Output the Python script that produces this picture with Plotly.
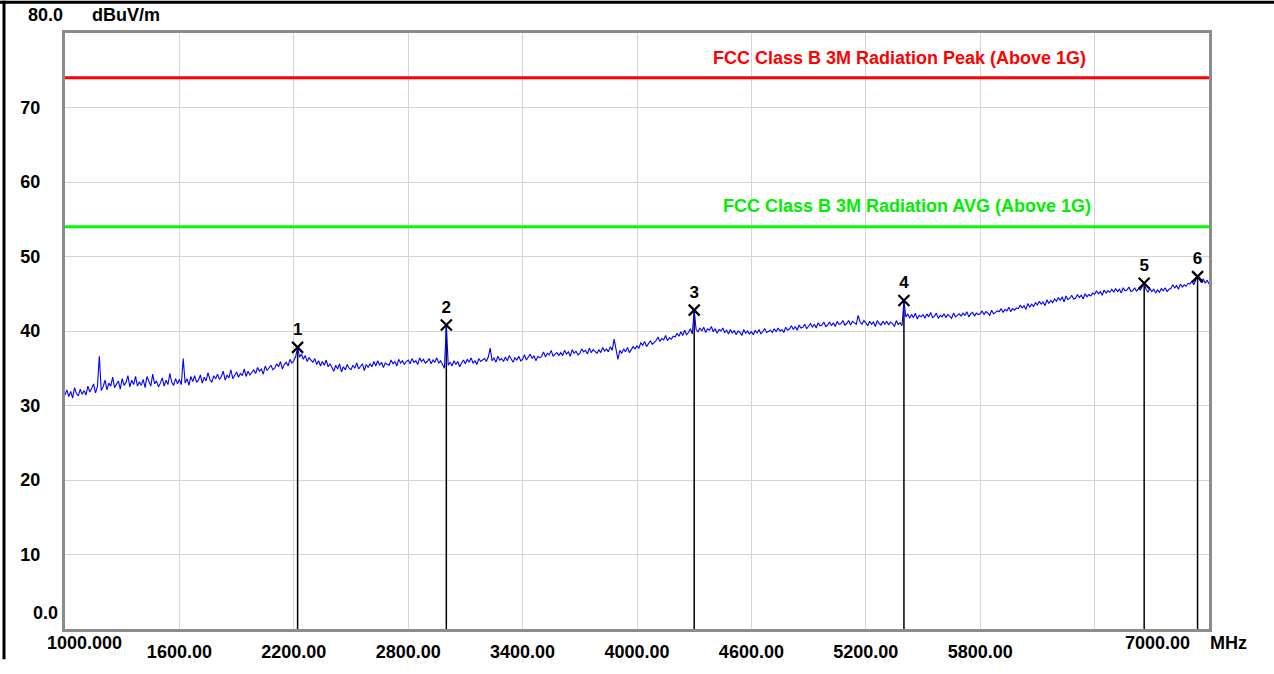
import numpy as np
import plotly.graph_objects as go

# ---- data ----
freq_start = 1000.0
freq_stop = 7000.0
level = [
    31.4, 32.1, 31.2, 31.9, 31.0, 32.4, 31.6, 31.3, 32.2, 31.5,
    32.0, 31.4, 32.6, 31.8, 32.3, 32.9, 31.7, 32.5, 36.6, 32.0,
    32.5, 33.4, 32.1, 33.0, 32.6, 33.8, 32.4, 32.9, 33.3, 32.2,
    33.6, 32.7, 33.1, 34.0, 32.5, 33.4, 32.8, 33.9, 32.6, 33.2,
    32.7, 33.5, 32.4, 33.9, 33.1, 32.6, 34.2, 32.9, 33.3, 32.5,
    33.0, 33.7, 32.6, 33.4, 32.8, 34.3, 33.1, 32.7, 33.6, 32.9,
    33.5, 32.8, 36.3, 33.0, 33.6, 32.7, 33.9, 33.2, 34.0, 33.1,
    33.4, 34.1, 33.0, 33.8, 33.3, 34.4, 33.5, 33.1, 34.0, 33.6,
    34.2, 33.5, 33.9, 34.6, 33.4, 34.1, 33.7, 34.8, 33.6, 34.0,
    34.5, 33.8, 34.3, 34.0, 34.9, 33.9, 34.6, 34.1, 34.4, 34.8,
    34.3, 35.1, 34.6, 34.9, 34.2, 35.3, 34.7, 35.0, 35.4, 34.8,
    35.0, 35.6, 35.2, 35.9, 34.9, 35.5, 35.8, 35.3, 36.2, 35.7,
    36.0, 36.6, 37.8, 36.5, 36.9, 36.2, 36.7, 35.9, 36.4, 36.1,
    35.8, 36.3, 35.5, 36.0, 35.3, 35.9, 35.4, 36.1, 35.2, 35.6,
    35.1, 34.6, 35.4, 34.9, 35.6, 34.5, 35.2, 34.8, 35.5, 35.0,
    34.8, 35.4, 35.0, 35.7, 34.9, 35.3, 35.6, 34.7, 35.5, 35.1,
    35.6, 35.2, 35.9, 35.3, 36.0, 35.4, 35.8, 35.1, 35.7, 35.5,
    35.4, 36.1, 35.6, 35.9, 35.3, 36.2, 35.7, 36.0, 35.5, 35.9,
    36.1, 35.6, 36.3, 35.8, 36.0, 35.5, 36.4, 35.9, 36.2, 35.7,
    35.9, 36.3, 35.6, 36.1, 35.8, 36.4, 35.7, 36.0, 35.5, 35.0,
    40.8, 35.4, 35.8, 35.3, 36.0, 35.5, 35.9, 35.2, 35.7, 36.1,
    35.6, 36.2, 35.8, 36.4, 35.7, 36.0, 35.5, 36.3, 35.9, 36.1,
    36.3, 35.9, 36.5, 37.7, 36.0, 36.4, 35.8, 36.6, 36.1, 36.3,
    35.9, 36.5, 36.0, 36.7, 36.2, 35.8, 36.4, 36.1, 36.6, 36.0,
    36.2, 36.8, 36.1, 36.5, 36.9, 36.3, 36.7, 36.0, 36.6, 36.4,
    36.6, 37.2, 36.5, 37.0, 36.8, 37.4, 36.6, 36.9, 37.1, 36.7,
    37.1, 36.7, 37.4, 36.9, 37.2, 36.6, 37.5, 37.0, 37.3, 36.8,
    37.0, 37.6, 37.2, 37.4, 36.9, 37.7, 37.1, 37.5, 37.3, 37.0,
    37.5, 37.1, 37.8, 37.3, 37.6, 37.2, 37.9, 37.4, 38.9, 37.5,
    36.2, 37.4, 37.0, 37.6, 37.2, 37.8, 37.1, 37.5, 37.9, 37.6,
    38.0, 37.7, 38.4, 38.1, 38.6, 37.9, 38.3, 38.7, 38.2, 38.5,
    38.7, 39.2, 38.6, 39.0, 38.8, 39.4, 38.7, 39.1, 38.9, 39.3,
    39.2, 39.7, 39.3, 39.9, 39.4, 40.1, 39.5, 39.8, 40.3, 39.6,
    42.8, 40.2, 39.9, 40.4, 40.0, 40.5, 39.8, 40.3, 40.1, 40.6,
    39.9, 40.3, 39.7, 40.2, 40.0, 40.4, 39.8, 40.1, 39.6, 40.2,
    39.7, 40.1, 39.5, 40.0, 39.8, 39.4, 40.2, 39.7, 40.0, 39.6,
    39.9, 39.5, 40.1, 39.7, 40.2, 39.6, 39.9, 40.3, 39.8, 40.0,
    40.1, 39.8, 40.3, 39.9, 40.4, 40.0, 40.2, 39.8, 40.5, 40.1,
    40.3, 40.7, 40.2, 40.6, 40.1, 40.8, 40.4, 40.5, 40.9, 40.3,
    40.6, 41.0, 40.5, 40.9, 40.4, 41.1, 40.7, 40.8, 41.2, 40.6,
    40.8, 41.2, 40.7, 41.1, 40.6, 41.3, 40.9, 41.0, 41.4, 40.8,
    41.0, 41.4, 40.8, 41.3, 41.1, 40.9, 42.1, 41.2, 40.9, 41.4,
    41.1, 40.7, 41.3, 40.9, 41.2, 40.6, 41.4, 41.0, 40.8, 41.3,
    40.9, 41.3, 40.8, 41.2, 41.0, 40.6, 41.4, 40.9, 41.1, 40.7,
    44.1, 41.9, 42.3, 41.7, 42.2, 41.8, 42.4, 41.6, 42.1, 41.9,
    42.2, 41.7, 42.3, 41.9, 42.5, 41.8, 42.0, 42.4, 41.7, 42.1,
    41.9, 42.3, 41.8, 42.2, 42.0, 41.7, 42.4, 41.9, 42.1, 42.3,
    42.0, 42.4, 42.1, 42.6, 41.9, 42.3, 42.5, 42.0, 42.4, 42.2,
    42.3, 42.7, 42.2, 42.6, 42.4, 42.1, 42.8, 42.3, 42.5, 42.7,
    42.6, 43.0, 42.5, 42.9, 42.7, 43.2, 42.6, 43.0, 42.8, 43.1,
    43.0, 43.5, 43.1, 43.4, 42.9, 43.7, 43.2, 43.6, 43.3, 43.8,
    43.5, 44.0, 43.6, 43.9, 43.4, 44.2, 43.7, 44.1, 43.8, 44.3,
    44.0, 44.5, 44.1, 44.6, 43.9, 44.7, 44.2, 44.4, 44.8, 44.3,
    44.4, 44.9, 44.5, 44.8, 44.3, 45.0, 44.6, 44.9, 44.7, 45.1,
    44.9, 45.4, 45.0, 45.3, 44.8, 45.5, 45.1, 45.4, 45.2, 45.6,
    45.2, 45.7, 45.3, 45.6, 45.1, 45.8, 45.4, 45.5, 45.9, 45.3,
    45.4, 45.8, 45.3, 45.7, 45.5, 45.9, 46.4, 45.6, 45.2, 45.7,
    45.3, 45.6, 45.1, 45.5, 45.2, 45.7, 45.4, 45.8, 45.3, 45.6,
    45.7, 46.2, 45.8, 46.1, 45.6, 46.3, 45.9, 46.2, 46.0, 46.4,
    46.3, 46.7, 46.2, 46.8, 47.3, 46.9, 46.5, 47.0, 46.4, 46.8,
    46.3,
]
freq = np.linspace(freq_start, freq_stop, len(level))

marker_ids = ["1", "2", "3", "4", "5", "6"]
marker_freq = [2220, 3000, 4300, 5400, 6660, 6940]
marker_level = [37.8, 40.8, 42.8, 44.1, 46.4, 47.3]

peak_limit = 74.0
avg_limit = 54.0
peak_label = "FCC Class B 3M Radiation Peak (Above 1G)"
avg_label = "FCC Class B 3M Radiation AVG (Above 1G)"

x_tickvals = [1000, 1600, 2200, 2800, 3400, 4000, 4600, 5200, 5800, 6400, 7000]
x_ticktext = ["", "1600.00", "2200.00", "2800.00", "3400.00", "4000.00",
              "4600.00", "5200.00", "5800.00", "", ""]
y_tickvals = [0, 10, 20, 30, 40, 50, 60, 70, 80]
y_ticktext = ["", "10", "20", "30", "40", "50", "60", "70", ""]

FONT = "Liberation Sans"
BOLD = dict(family=FONT, size=18, color="black", weight="bold")

W, H = 1274, 674
L, R, T, B = 65, 65, 33, 31
PW, PH = W - L - R, H - T - B


def px_x(px):
    return (px - L) / PW


def px_y(py):
    return (H - B - py) / PH


fig = go.Figure()

# limit lines
fig.add_trace(go.Scatter(x=[freq_start, freq_stop], y=[peak_limit, peak_limit],
                         mode="lines", line=dict(color="#ff0000", width=3),
                         hoverinfo="skip", showlegend=False))
fig.add_trace(go.Scatter(x=[freq_start, freq_stop], y=[avg_limit, avg_limit],
                         mode="lines", line=dict(color="#00ff00", width=3),
                         hoverinfo="skip", showlegend=False))

# marker drop lines
vx, vy = [], []
for f, v in zip(marker_freq, marker_level):
    vx += [f, f, None]
    vy += [0, v, None]
fig.add_trace(go.Scatter(x=vx, y=vy, mode="lines",
                         line=dict(color="black", width=1.5),
                         hoverinfo="skip", showlegend=False))

# measurement trace
fig.add_trace(go.Scatter(x=freq, y=level, mode="lines",
                         line=dict(color="#0000ff", width=1.1),
                         showlegend=False))

# markers
fig.add_trace(go.Scatter(x=marker_freq, y=marker_level, mode="markers+text",
                         marker=dict(symbol="x-thin-open", size=11, color="black",
                                     line=dict(color="black", width=2.2)),
                         text=marker_ids, textposition="top center",
                         textfont=dict(family=FONT, size=17, color="black", weight="bold"),
                         showlegend=False))

annotations = [
    dict(x=6365, y=76.6, xref="x", yref="y", text=peak_label, showarrow=False,
         xanchor="right", yanchor="middle",
         font=dict(family=FONT, size=18, color="#ff0000", weight="bold")),
    dict(x=6390, y=56.8, xref="x", yref="y", text=avg_label, showarrow=False,
         xanchor="right", yanchor="middle",
         font=dict(family=FONT, size=18, color="#00ee00", weight="bold")),
    dict(x=px_x(60), y=px_y(627), xref="paper", yref="paper",
         text="0.0", showarrow=False, xanchor="right", yanchor="middle", font=BOLD),
    dict(x=px_x(65), y=px_y(15), xref="paper", yref="paper",
         text="80.0", showarrow=False, xanchor="right", yanchor="middle", font=BOLD),
    dict(x=px_x(90), y=px_y(15), xref="paper", yref="paper",
         text="dBuV/m", showarrow=False, xanchor="left", yanchor="middle", font=BOLD),
    dict(x=px_x(45), y=px_y(657), xref="paper", yref="paper",
         text="1000.000", showarrow=False, xanchor="left", yanchor="middle", font=BOLD),
    dict(x=px_x(1157), y=px_y(657), xref="paper", yref="paper",
         text="7000.00", showarrow=False, xanchor="center", yanchor="middle", font=BOLD),
    dict(x=px_x(1208), y=px_y(657), xref="paper", yref="paper",
         text="MHz", showarrow=False, xanchor="left", yanchor="middle", font=BOLD),
]

shapes = [
    dict(type="line", xref="paper", yref="paper",
         x0=px_x(0), x1=px_x(W), y0=px_y(1.5), y1=px_y(1.5),
         line=dict(color="black", width=3)),
    dict(type="line", xref="paper", yref="paper",
         x0=px_x(4), x1=px_x(4), y0=px_y(0), y1=px_y(H),
         line=dict(color="black", width=3)),
]

fig.update_layout(
    width=W, height=H, autosize=False,
    margin=dict(l=L, r=R, t=T, b=B),
    paper_bgcolor="white", plot_bgcolor="white",
    annotations=annotations, shapes=shapes,
    showlegend=False,
)
fig.update_xaxes(range=[freq_start, freq_stop], tickvals=x_tickvals, ticktext=x_ticktext,
                 showgrid=True, gridcolor="#d4d4d4", gridwidth=1,
                 showline=True, linecolor="#8c8c8c", linewidth=3, mirror=True,
                 ticks="", tickfont=BOLD, ticklabelstandoff=4, zeroline=False)
fig.update_yaxes(range=[0, 80], tickvals=y_tickvals, ticktext=y_ticktext,
                 showgrid=True, gridcolor="#d4d4d4", gridwidth=1,
                 showline=True, linecolor="#8c8c8c", linewidth=3, mirror=True,
                 ticks="", tickfont=BOLD, ticklabelstandoff=18, zeroline=False)

post = (
    "document.body.style.margin='0';document.body.style.padding='0';"
    "document.body.style.overflow='hidden';"
)
fig.write_html("out.html",
               config={"displayModeBar": False, "responsive": False},
               post_script=post)
